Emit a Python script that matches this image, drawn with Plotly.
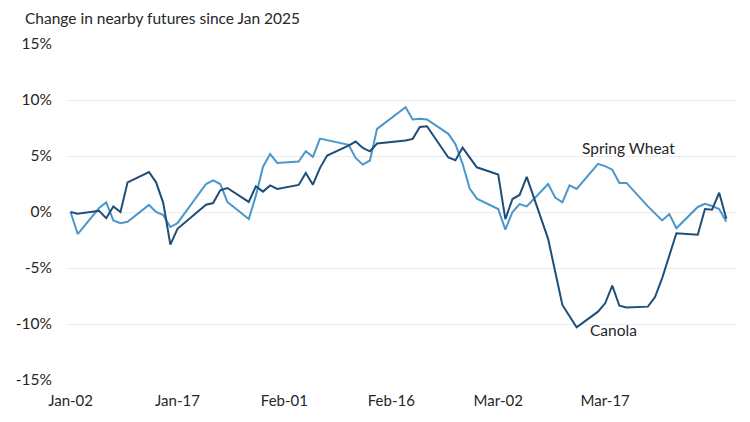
import plotly.graph_objects as go
import pandas as pd

# -----------------------------------------------------------------------------
# Data (% change in nearby futures since Jan 2, 2025)
# -----------------------------------------------------------------------------

canola_dates = [
    "2025-01-02", "2025-01-03", "2025-01-06", "2025-01-07", "2025-01-08", "2025-01-09",
    "2025-01-10", "2025-01-13", "2025-01-14", "2025-01-15", "2025-01-16", "2025-01-17",
    "2025-01-21", "2025-01-22", "2025-01-23", "2025-01-24", "2025-01-27", "2025-01-28",
    "2025-01-29", "2025-01-30", "2025-01-31", "2025-02-03", "2025-02-04", "2025-02-05",
    "2025-02-06", "2025-02-07", "2025-02-10", "2025-02-11", "2025-02-12", "2025-02-13",
    "2025-02-14", "2025-02-18", "2025-02-19", "2025-02-20", "2025-02-21", "2025-02-24",
    "2025-02-25", "2025-02-26", "2025-02-28", "2025-03-03", "2025-03-04", "2025-03-05",
    "2025-03-06", "2025-03-07", "2025-03-10", "2025-03-11", "2025-03-12", "2025-03-14",
    "2025-03-17", "2025-03-18", "2025-03-19", "2025-03-20", "2025-03-21", "2025-03-24",
    "2025-03-25", "2025-03-26", "2025-03-27", "2025-03-28", "2025-03-31", "2025-04-01",
    "2025-04-02", "2025-04-03", "2025-04-04",
]
canola = [
    0.0, -0.15, 0.1, -0.55, 0.5, 0.0,
    2.65, 3.57, 2.65, 0.82, -2.92, -1.5,
    0.65, 0.8, 1.93, 2.14, 0.9, 2.29,
    1.82, 2.37, 2.06, 2.42, 3.49, 2.44,
    3.94, 5.04, 5.93, 6.29, 5.72, 5.42,
    6.11, 6.38, 6.53, 7.6, 7.66, 4.87,
    4.62, 5.75, 3.99, 3.34, -0.63, 1.16,
    1.52, 3.13, -2.4, -5.3, -8.3, -10.3,
    -8.9, -8.15, -6.57, -8.37, -8.52, -8.45,
    -7.6, -5.9, -4.0, -1.9, -2.03, 0.27,
    0.2, 1.72, -0.6,
]

wheat_dates = [
    "2025-01-02", "2025-01-03", "2025-01-06", "2025-01-07", "2025-01-08", "2025-01-09",
    "2025-01-10", "2025-01-13", "2025-01-14", "2025-01-15", "2025-01-16", "2025-01-17",
    "2025-01-21", "2025-01-22", "2025-01-23", "2025-01-24", "2025-01-27", "2025-01-28",
    "2025-01-29", "2025-01-30", "2025-01-31", "2025-02-03", "2025-02-04", "2025-02-05",
    "2025-02-06", "2025-02-07", "2025-02-10", "2025-02-11", "2025-02-12", "2025-02-13",
    "2025-02-14", "2025-02-18", "2025-02-19", "2025-02-20", "2025-02-21", "2025-02-24",
    "2025-02-25", "2025-02-26", "2025-02-27", "2025-02-28", "2025-03-03", "2025-03-04",
    "2025-03-05", "2025-03-06", "2025-03-07", "2025-03-10", "2025-03-11", "2025-03-12",
    "2025-03-13", "2025-03-14", "2025-03-17", "2025-03-18", "2025-03-19", "2025-03-20",
    "2025-03-21", "2025-03-24", "2025-03-25", "2025-03-26", "2025-03-27", "2025-03-28",
    "2025-03-31", "2025-04-01", "2025-04-02", "2025-04-03", "2025-04-04",
]
spring_wheat = [
    0.0, -1.97, 0.35, 0.86, -0.75, -1.0,
    -0.87, 0.63, 0.0, -0.27, -1.34, -1.0,
    2.5, 2.83, 2.5, 0.9, -0.63, 1.46,
    4.05, 5.17, 4.38, 4.5, 5.42, 4.92,
    6.55, 6.4, 6.0, 4.83, 4.23, 4.6,
    7.42, 9.36, 8.26, 8.32, 8.26, 6.98,
    6.05, 4.3, 2.1, 1.19, 0.27, -1.58,
    0.0, 0.7, 0.5, 2.5, 1.28, 0.86,
    2.38, 2.06, 4.3, 4.1, 3.78, 2.6,
    2.6, 0.5, -0.1, -0.75, -0.18, -1.45,
    0.45, 0.73, 0.53, 0.27, -0.87,
]

x_tick_labels = ["Jan-02", "Jan-17", "Feb-01", "Feb-16", "Mar-02", "Mar-17"]
y_tick_values = [-15, -10, -5, 0, 5, 10, 15]
y_tick_labels = ["-15%", "-10%", "-5%", "0%", "5%", "10%", "15%"]

# ticks sit every 15 days from the first date, like the source chart
x_tick_values = [pd.Timestamp("2025-01-02") + pd.Timedelta(days=15 * i) for i in range(len(x_tick_labels))]

FONT = "Lato"
TEXT_COLOR = "#262626"
CANOLA_COLOR = "#1F4E79"
WHEAT_COLOR = "#4A97CC"

# -----------------------------------------------------------------------------
# Figure
# (page body has an 8px margin, so the layout is nudged up/left to compensate)
# -----------------------------------------------------------------------------

fig = go.Figure()
fig.add_trace(go.Scatter(
    x=wheat_dates, y=spring_wheat, mode="lines", name="Spring Wheat",
    line=dict(color=WHEAT_COLOR, width=2),
))
fig.add_trace(go.Scatter(
    x=canola_dates, y=canola, mode="lines", name="Canola",
    line=dict(color=CANOLA_COLOR, width=2),
))

fig.add_annotation(x="2025-03-21 08:00", y=5.75, text="Spring Wheat", showarrow=False,
                   font=dict(family=FONT, size=15.5, color=TEXT_COLOR))
fig.add_annotation(x="2025-03-19 05:00", y=-10.5, text="Canola", showarrow=False,
                   font=dict(family=FONT, size=15.5, color=TEXT_COLOR))

fig.update_layout(
    width=750, height=422,
    paper_bgcolor="white", plot_bgcolor="white",
    showlegend=False,
    font=dict(family=FONT, size=15, color=TEXT_COLOR),
    title=dict(
        text="Change in nearby futures since Jan 2025",
        x=17 / 750, xanchor="left", xref="container",
        y=1 - 11 / 422, yanchor="middle", yref="container",
        font=dict(family=FONT, size=15.5, color=TEXT_COLOR),
    ),
    margin=dict(l=59, r=21, t=36, b=50),
    xaxis=dict(
        type="date", automargin=False,
        range=["2025-01-01 12:00", "2025-04-05 12:00"],
        tickvals=x_tick_values, ticktext=x_tick_labels,
        showgrid=False, zeroline=False, showline=False,
        ticks="", ticklabelstandoff=10,
    ),
    yaxis=dict(
        range=[-15, 15], automargin=False,
        tickvals=y_tick_values, ticktext=y_tick_labels,
        tickfont=dict(size=15.5),
        showgrid=True, gridcolor="#EBEBEB", gridwidth=1,
        zeroline=False, showline=False, ticks="",
        ticklabelstandoff=14,
    ),
)

fig.write_html("out.html")
